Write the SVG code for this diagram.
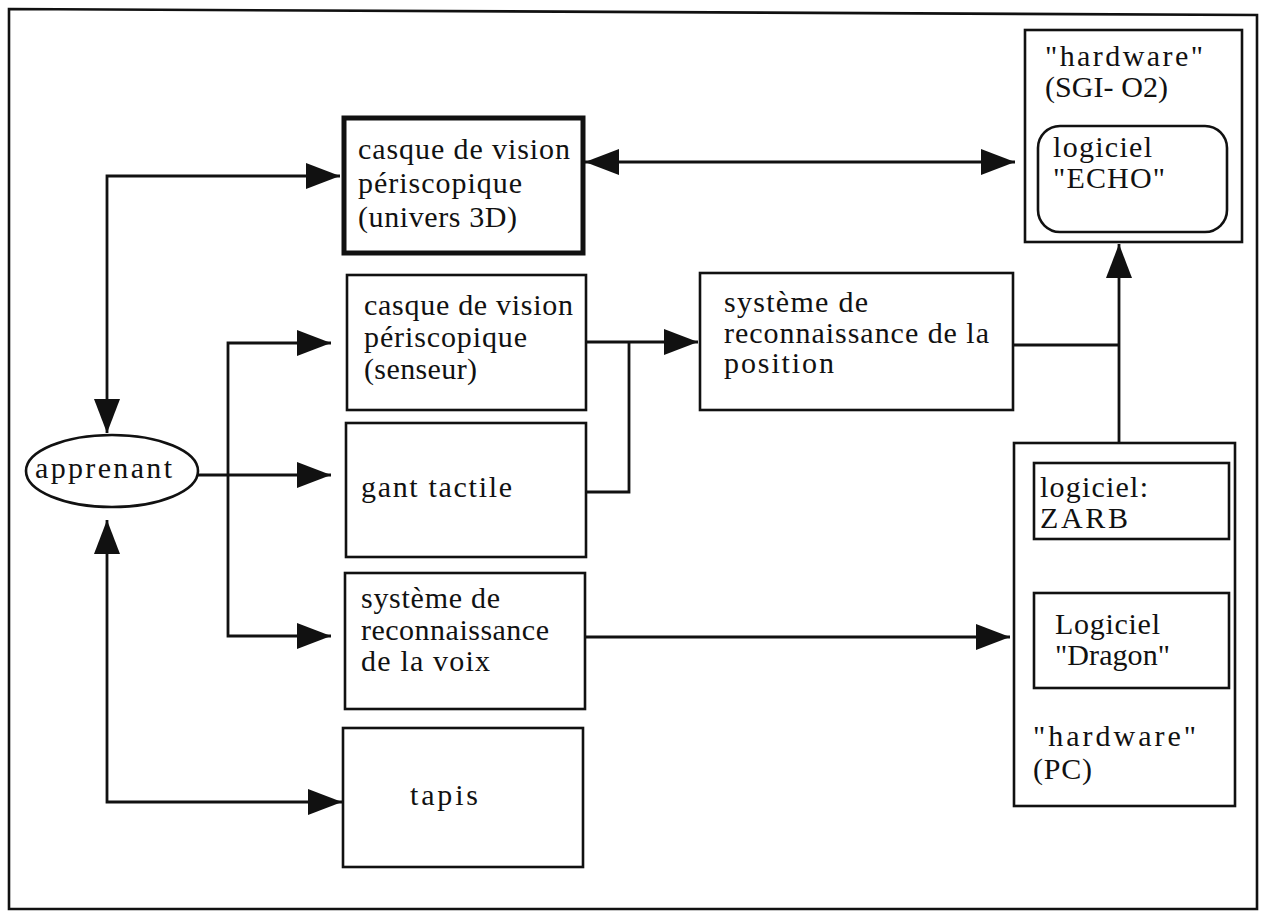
<svg xmlns="http://www.w3.org/2000/svg" width="1261" height="913" viewBox="0 0 1261 913">
<style>
text{font-family:"Liberation Serif","Times New Roman",serif;font-size:30px;fill:#111}
.box{fill:#fff;stroke:#111;stroke-width:2.6}
.thick{fill:#fff;stroke:#111;stroke-width:5}
.con{fill:none;stroke:#111;stroke-width:2.8}
</style>
<defs>
<marker id="arr" markerUnits="userSpaceOnUse" markerWidth="36" markerHeight="28" refX="34" refY="14" orient="auto-start-reverse" viewBox="0 0 36 28">
<path d="M0,1 L34,14 L0,27 z" fill="#111"/>
</marker>
<marker id="arrs" markerUnits="userSpaceOnUse" markerWidth="10" markerHeight="10" refX="9" refY="5" orient="auto-start-reverse" viewBox="0 0 10 10">
<path d="M0,0 L9,5 L0,10 z" fill="#111"/>
</marker>
</defs>
<rect width="1261" height="913" fill="#fff"/>
<path id="frame" d="M9,9 L1257,15 L1257,909 L9,909 Z" fill="none" stroke="#111" stroke-width="2.6"/>

<g id="connectors">
<path class="con" d="M340,176 H107 V433" marker-start="url(#arr)" marker-end="url(#arr)"/>
<path class="con" d="M107,520 V802 H342" marker-start="url(#arr)" marker-end="url(#arr)"/>
<path class="con" d="M198,475 H331" marker-end="url(#arr)"/>
<path class="con" d="M331,343 H228 V636 H331" marker-start="url(#arr)" marker-end="url(#arr)"/>
<path class="con" d="M586,342 H698" marker-end="url(#arr)"/>
<path class="con" d="M586,492 H629 V342"/>
<path class="con" d="M1013,345 H1119"/>
<path class="con" d="M1119,443 V244" marker-end="url(#arr)"/>
<path class="con" d="M585,162 H1015" marker-start="url(#arr)" marker-end="url(#arr)"/>
<path class="con" d="M585,637 H1010" marker-end="url(#arr)"/>
<path class="con" d="M1120,593 V540" marker-end="url(#arrs)"/>
</g>

<g id="apprenant">
<ellipse cx="112" cy="471" rx="86" ry="36" fill="#fff" stroke="#111" stroke-width="2.6"/>
<text x="35" y="478" textLength="137" lengthAdjust="spacing">apprenant</text>
</g>

<g id="casque3d">
<rect class="thick" x="344" y="118" width="239" height="135"/>
<text x="358" y="159" textLength="212" lengthAdjust="spacing">casque de vision</text>
<text x="358" y="193" textLength="164" lengthAdjust="spacing">périscopique</text>
<text x="358" y="227" textLength="159" lengthAdjust="spacing">(univers 3D)</text>
</g>

<g id="casqueSenseur">
<rect class="box" x="347" y="275" width="239" height="135"/>
<text x="364" y="315" textLength="209" lengthAdjust="spacing">casque de vision</text>
<text x="364" y="347" textLength="163" lengthAdjust="spacing">périscopique</text>
<text x="364" y="379" textLength="113" lengthAdjust="spacing">(senseur)</text>
</g>

<g id="gant">
<rect class="box" x="346" y="423" width="240" height="134"/>
<text x="361" y="497" textLength="151" lengthAdjust="spacing">gant tactile</text>
</g>

<g id="voix">
<rect class="box" x="345" y="573" width="240" height="136"/>
<text x="361" y="608" textLength="139" lengthAdjust="spacing">système de</text>
<text x="361" y="640" textLength="188" lengthAdjust="spacing">reconnaissance</text>
<text x="361" y="671" textLength="129" lengthAdjust="spacing">de la voix</text>
</g>

<g id="tapis">
<rect class="box" x="343" y="728" width="240" height="139"/>
<text x="410" y="805" textLength="68" lengthAdjust="spacing">tapis</text>
</g>

<g id="position">
<rect class="box" x="700" y="273" width="313" height="137"/>
<text x="724" y="312" textLength="144" lengthAdjust="spacing">système de</text>
<text x="724" y="343" textLength="265" lengthAdjust="spacing">reconnaissance de la</text>
<text x="724" y="373" textLength="110" lengthAdjust="spacing">position</text>
</g>

<g id="sgi">
<rect class="box" x="1025" y="30" width="217" height="212"/>
<text x="1045" y="66" textLength="158" lengthAdjust="spacing">"hardware"</text>
<text x="1045" y="97" textLength="123" lengthAdjust="spacing">(SGI- O2)</text>
<rect class="box" x="1038" y="126" width="189" height="106" rx="22" ry="22"/>
<text x="1053" y="157" textLength="99" lengthAdjust="spacing">logiciel</text>
<text x="1053" y="188" textLength="112" lengthAdjust="spacing">"ECHO"</text>
</g>

<g id="pc">
<rect class="box" x="1014" y="443" width="221" height="363"/>
<text x="1033" y="746" textLength="163" lengthAdjust="spacing">"hardware"</text>
<text x="1033" y="779" textLength="59" lengthAdjust="spacing">(PC)</text>
</g>

<g id="zarb">
<rect class="box" x="1034" y="463" width="195" height="76"/>
<text x="1040" y="497" textLength="108" lengthAdjust="spacing">logiciel:</text>
<text x="1040" y="528" textLength="88" lengthAdjust="spacing">ZARB</text>
</g>

<g id="dragon">
<rect class="box" x="1034" y="593" width="195" height="95"/>
<text x="1055" y="634" textLength="105" lengthAdjust="spacing">Logiciel</text>
<text x="1055" y="665" textLength="115" lengthAdjust="spacing">"Dragon"</text>
</g>
</svg>
